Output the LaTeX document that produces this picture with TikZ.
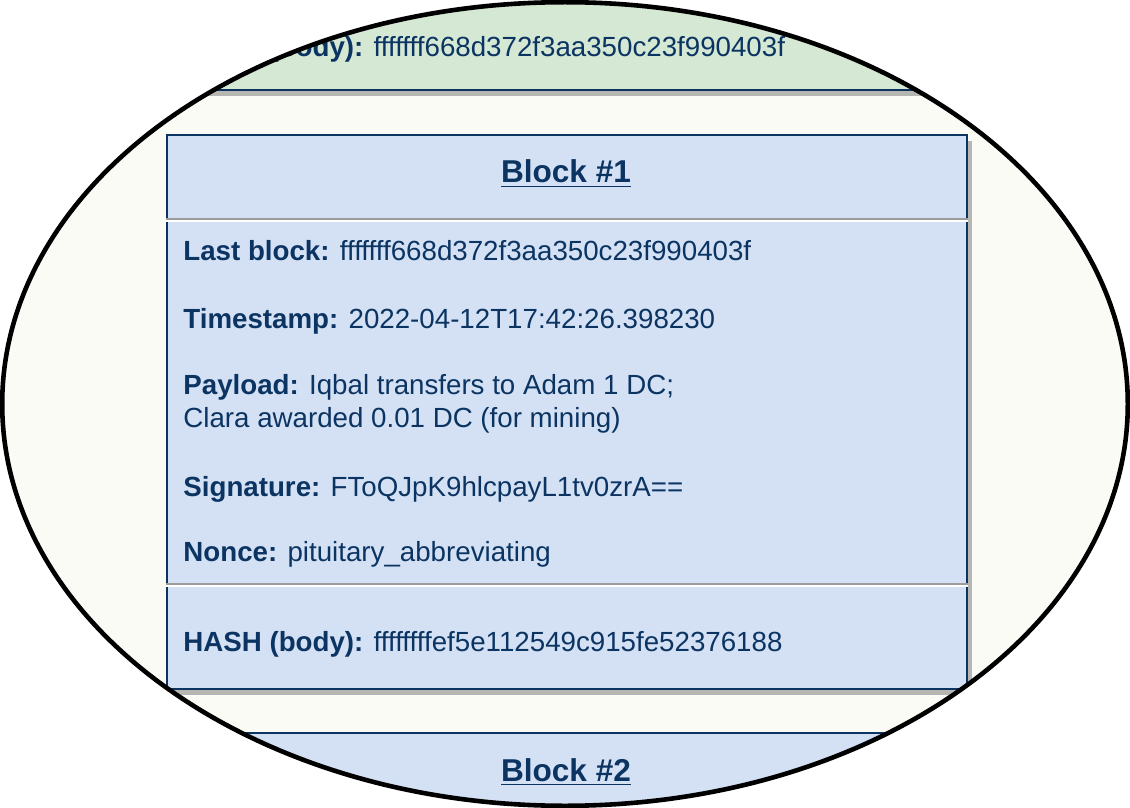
\documentclass[tikz,border=0pt]{standalone}
\usepackage{fontspec}
\setmainfont{Liberation Sans}
\usetikzlibrary{shadows}
\definecolor{navy}{HTML}{0B3462}
\definecolor{bluefill}{HTML}{D4E1F4}
\definecolor{greenfill}{HTML}{D5E8D4}
\definecolor{cream}{HTML}{FAFBF5}
\definecolor{rule}{HTML}{9C9C9C}
\begin{document}
\begin{tikzpicture}[x=0.5pt,y=-0.5pt,
  block/.style={draw=navy, line width=1pt, fill=bluefill, minimum width=400pt, minimum height=277pt, inner sep=0pt,
    drop shadow={shadow xshift=2.5pt, shadow yshift=-3.2pt, fill=black!55}},
  title/.style={anchor=base, inner sep=0pt, text=navy, font=\fontsize{15.8}{19}\selectfont\bfseries},
  field/.style={anchor=base west, inner sep=0pt, text=navy, font=\fontsize{13.85}{16.7}\selectfont},
  sep/.style={rule, line width=1pt}]
  \useasboundingbox (0,0) rectangle (1130,808);
  \begin{scope}
    \clip (565,404) ellipse [x radius=563, y radius=402];
    \fill[cream] (0,0) rectangle (1130,808);

    \node[block, fill=greenfill] (B0) at (567,-187) {};
    \node[field] (hash0) at (183,57) {\textbf{HASH (body):} fffffff668d372f3aa350c23f990403f};

    \node[block] (B1) at (567,412) {};
    \node[title] (T1) at (566,183) {\underline{Block \#1}};
    \draw[sep] (B1.west |- 0,219) -- (B1.east |- 0,219);
    \draw[white, line width=0.6pt] (B1.west |- 0,221) -- (B1.east |- 0,221);
    \node[field] (last) at (183,260) {\textbf{Last block:} fffffff668d372f3aa350c23f990403f};
    \node[field] (stamp) at (183,328) {\textbf{Timestamp:} 2022-04-12T17:42:26.398230};
    \node[field] (load) at (183,394) {\textbf{Payload:} Iqbal transfers to Adam 1 DC;};
    \node[field] (load2) at (183,427) {Clara awarded 0.01 DC (for mining)};
    \node[field] (sig) at (183,496) {\textbf{Signature:} FToQJpK9hlcpayL1tv0zrA==};
    \node[field] (nonce) at (183,561) {\textbf{Nonce:} pituitary\_abbreviating};
    \draw[sep] (B1.west |- 0,584) -- (B1.east |- 0,584);
    \draw[white, line width=0.6pt] (B1.west |- 0,586) -- (B1.east |- 0,586);
    \node[field] (hash1) at (183,651) {\textbf{HASH (body):} ffffffffef5e112549c915fe52376188};

    \node[block] (B2) at (567,1010) {};
    \node[title] (T2) at (566,781) {\underline{Block \#2}};
  \end{scope}
  \draw[line width=2.3pt] (565,404) ellipse [x radius=562.8, y radius=401.8];
\end{tikzpicture}
\end{document}
